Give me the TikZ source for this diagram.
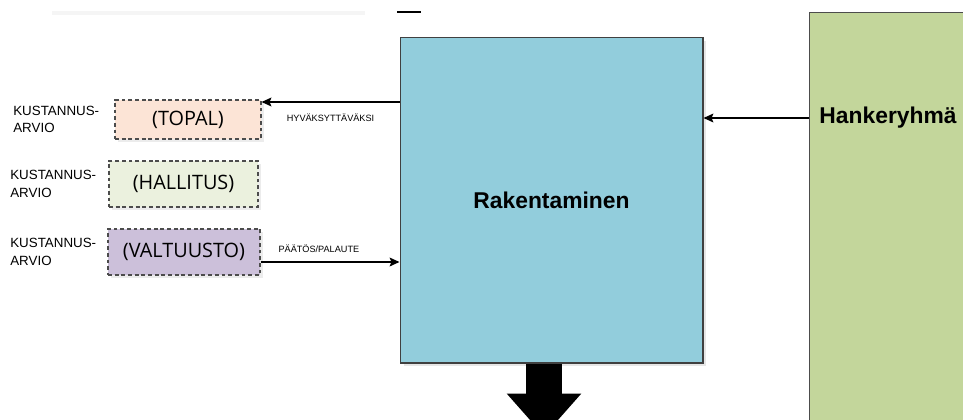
\documentclass[tikz,border=0pt]{standalone}
\usepackage{fontspec}
\setmainfont{Liberation Sans}
\newfontfamily\boxfont{Open Sans}
\usetikzlibrary{positioning, arrows, shadows}
\usetikzlibrary{arrows.meta}
\definecolor{rakblue}{HTML}{92CDDC}
\definecolor{hankegreen}{HTML}{C3D69B}
\definecolor{topalfill}{HTML}{FCE4D6}
\definecolor{hallfill}{HTML}{EBF1DE}
\definecolor{valtfill}{HTML}{CCC0DA}
\tikzset{
>={Stealth[length=5.6pt, width=5pt, inset=1pt]}, % bold arrow heads
flow/.style={->, line width=0.85pt}, % thin connectors
phase/.style={draw=black!75, line width=0.6pt, fill=rakblue, inner sep=0pt,
  drop shadow={opacity=0.2, shadow xshift=2pt, shadow yshift=-2pt},
  font=\fontsize{13}{15}\selectfont\bfseries}, % the big phase box
group/.style={draw=black!70, line width=0.6pt, fill=hankegreen, inner sep=0pt}, % the column on the right
grouptitle/.style={font=\fontsize{13}{15}\selectfont\bfseries, inner sep=0pt}, % title inside the column
organ/.style={draw=black!70, line width=0.6pt, dash pattern=on 2.2pt off 1.6pt, inner sep=0pt,
  drop shadow={opacity=0.15, shadow xshift=1.5pt, shadow yshift=-1.5pt},
  font=\boxfont\fontsize{11.3}{13}\selectfont}, % dashed decision boxes
cost/.style={font=\fontsize{7.6}{9.8}\selectfont, align=left, inner sep=0pt}, % small texts on the left
flowlabel/.style={font=\fontsize{5.2}{6}\selectfont, inner sep=0pt}, % texts on the arrows
}

\begin{document}
\begin{tikzpicture}[x=0.02cm, y=-0.02cm]
    \useasboundingbox (0,0) rectangle (963,419);
    \clip (0,0) rectangle (963,419);
    % cut remains at the top
    \draw[black!4, line width=2pt] (52,13) -- (365,13);
    \draw[black, line width=0.8pt] (397,12) -- (421,12);
    \node[group, minimum width=3.3cm, minimum height=8.6cm] (hanke) at (892,227) {};
    \node[grouptitle] (hanketitle) at (888,118) {Hankeryhmä};
    \node[phase, minimum width=6.06cm, minimum height=6.52cm] (rak) at (551.5,200) {Rakentaminen};
    \node[organ, fill=topalfill, minimum width=2.92cm, minimum height=0.78cm] (topal) at (188,119.5) {(TOPAL)};
    \node[organ, fill=hallfill, minimum width=2.98cm, minimum height=0.92cm] (hallitus) at (183.5,184) {(HALLITUS)};
    \node[organ, fill=valtfill, minimum width=3.04cm, minimum height=0.92cm] (valtuusto) at (184,252) {(VALTUUSTO)};
    \node[cost, left=0.3cm of topal] (topalcost) {KUSTANNUS-\\ARVIO};
    \node[cost, left=0.24cm of hallitus] (hallituscost) {KUSTANNUS-\\ARVIO};
    \node[cost, left=0.22cm of valtuusto] (valtuustocost) {KUSTANNUS-\\ARVIO};
    \coordinate (next) at (544,436);
    \draw[flow] (rak.west |- 0,102) -- (topal.east |- 0,102)
        node[flowlabel, midway, below=0.22cm] {HYVÄKSYTTÄVÄKSI};
    \draw[flow] (valtuusto.east |- 0,262) -- (rak.west |- 0,262)
        node[flowlabel, pos=0.42, above=0.18cm] {PÄÄTÖS/PALAUTE};
    \draw[flow] (hanke.west |- hanketitle) -- (rak.east |- hanketitle);
    \draw[line width=0.72cm, -{Triangle[width=1.44cm, length=0.85cm]}] (rak.south -| next) -- (next);
  \end{tikzpicture}
\end{document}
